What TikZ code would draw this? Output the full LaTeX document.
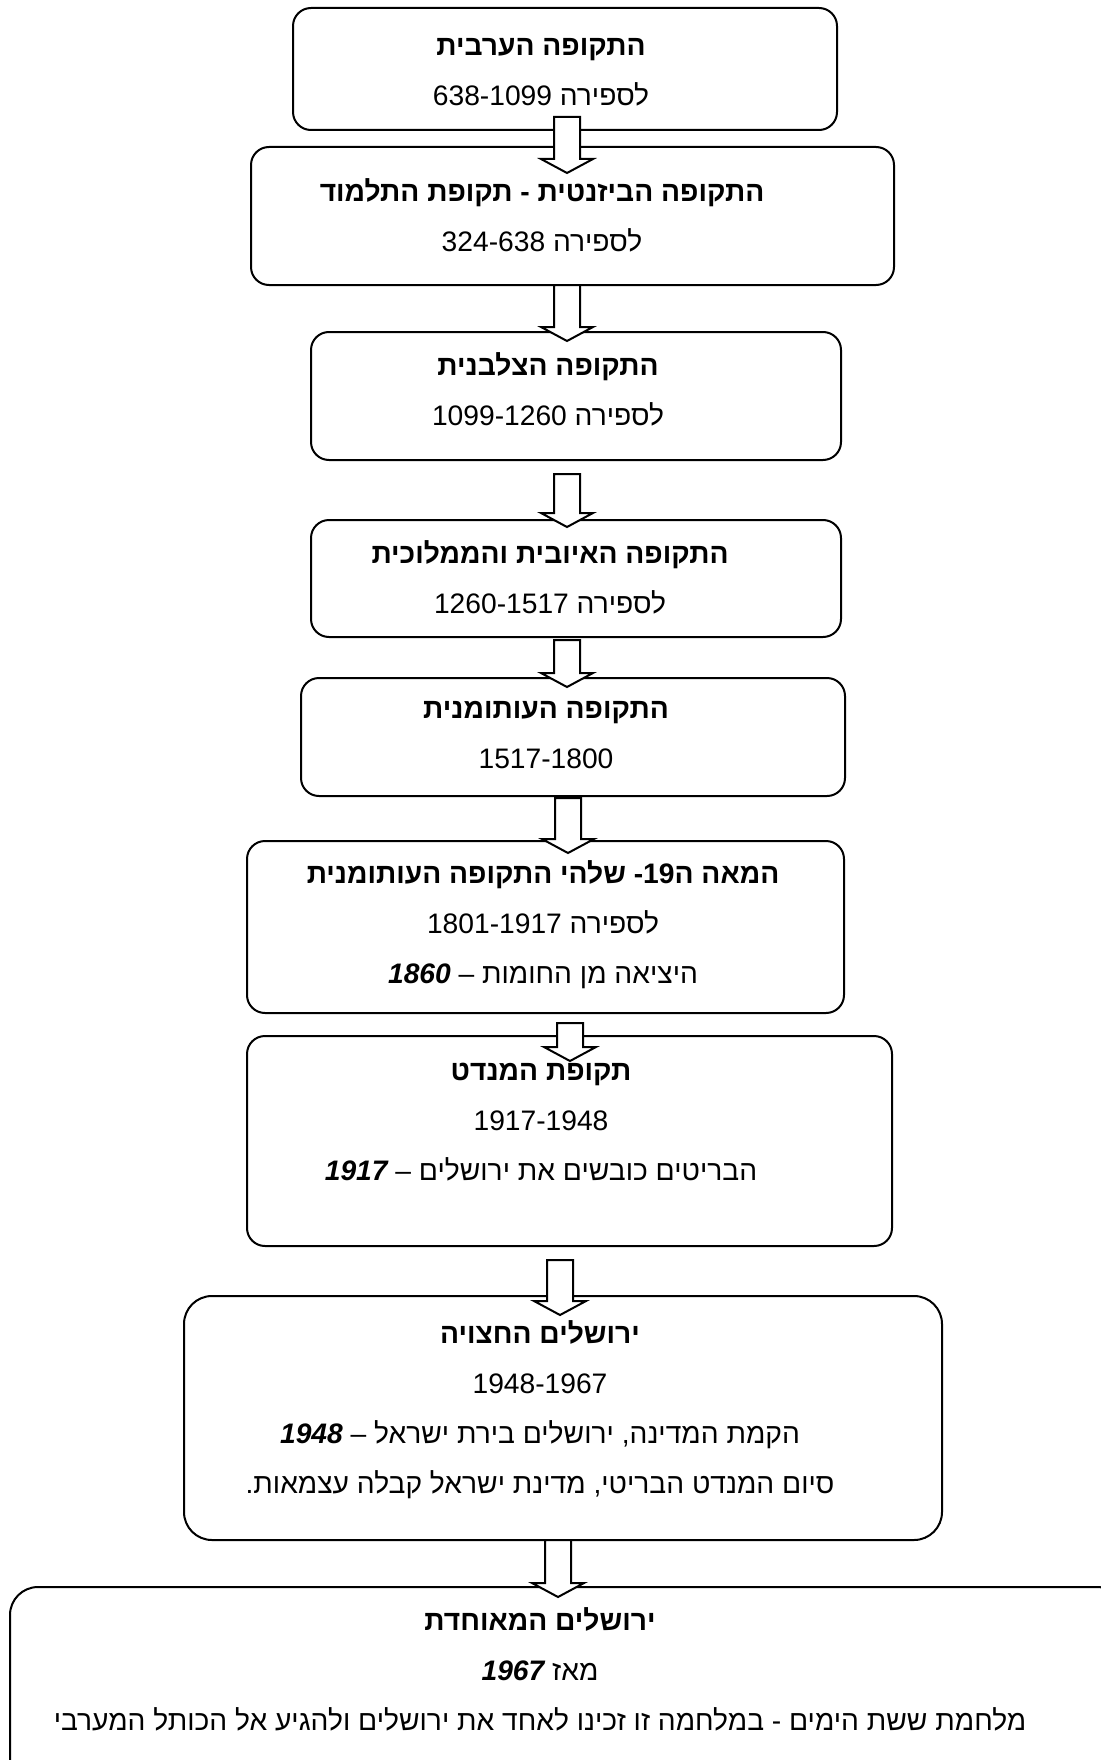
\documentclass[tikz,border=0pt]{standalone}
\usepackage{fontspec}
\setmainfont{Liberation Sans}[Script=Hebrew]
\usetikzlibrary{fit}
\TeXXeTstate=1
\newcommand\rl[1]{\beginR #1\endR}
\newcommand\nm[1]{\beginL #1\endL{}}
\newcommand\bi[1]{{\bfseries\itshape #1}}
\begin{document}
\begin{tikzpicture}[x=0.5pt,y=-0.5pt,
  box/.style={draw, line width=1pt, rounded corners=9pt, inner sep=0pt},
  bigbox/.style={box, rounded corners=14pt},
  txt/.style={font=\fontsize{14.1pt}{25pt}\selectfont, align=center, inner sep=0pt},
  pics/barrow/.style={code={
    \draw[line width=1pt, fill=white, line join=miter]
      (-13,0) -- (-13,#1-14) -- (-26,#1-14) -- (0,#1) -- (26,#1-14) -- (13,#1-14) -- (13,0) -- cycle;}}]
\useasboundingbox (0,0) rectangle (1101,1760);
\clip (0,0) rectangle (1101,1760);
% boxes
\node[box, fit={(293,8) (837,130)}] (b1) {};
\node[box, fit={(251,147) (894,285)}] (b2) {};
\node[box, fit={(311,332) (841,460)}] (b3) {};
\node[box, fit={(311,520) (841,637)}] (b4) {};
\node[box, fit={(301,678) (845,796)}] (b5) {};
\node[box, fit={(247,841) (844,1013)}] (b6) {};
\node[box, fit={(247,1036) (892,1246)}] (b7) {};
\node[bigbox, fit={(184,1296) (942,1540)}] (b8) {};
\node[bigbox, fit={(10,1587) (1125,1800)}] (b9) {};
% texts
\node[txt] (t1) at (541,72) {\textbf{\rl{התקופה הערבית}}\\ \rl{לספירה \nm{638-1099}}};
\node[txt] (t2) at (542,215) {\textbf{\rl{התקופה הביזנטית - תקופת התלמוד}}\\ \rl{לספירה \nm{324-638}}};
\node[txt] (t3) at (548,389) {\textbf{\rl{התקופה הצלבנית}}\\ \rl{לספירה \nm{1099-1260}}};
\node[txt] (t4) at (550,577) {\textbf{\rl{התקופה האיובית והממלוכית}}\\ \rl{לספירה \nm{1260-1517}}};
\node[txt] (t5) at (546,735) {\textbf{\rl{התקופה העותומנית}}\\ 1517-1800};
\node[txt] (t6) at (543,925) {\textbf{\rl{המאה ה\nm{19}- שלהי התקופה העותומנית}}\\ \rl{לספירה \nm{1801-1917}}\\ \rl{היציאה מן החומות – \nm{\bi{1860}}}};
\node[txt] (t7) at (541,1122) {\textbf{\rl{תקופת המנדט}}\\ 1917-1948\\ \rl{הבריטים כובשים את ירושלים – \nm{\bi{1917}}}};
\node[txt] (t8) at (540,1410) {\textbf{\rl{ירושלים החצויה}}\\ 1948-1967\\ \rl{הקמת המדינה, ירושלים בירת ישראל – \nm{\bi{1948}}}\\ \rl{סיום המנדט הבריטי, מדינת ישראל קבלה עצמאות.}};
\node[txt] (t9) at (540,1669) {\textbf{\rl{ירושלים המאוחדת}}\\ \rl{מאז \nm{\bi{1967}}}\\ \rl{מלחמת ששת הימים - במלחמה זו זכינו לאחד את ירושלים ולהגיע אל הכותל המערבי}};
% arrows
\coordinate (a1) at (567,117);
\coordinate (a2) at (567,285);
\coordinate (a3) at (567,474);
\coordinate (a4) at (567,640);
\coordinate (a5) at (568,798);
\coordinate (a6) at (570,1023);
\coordinate (a7) at (560,1260);
\coordinate (a8) at (558,1540);
\pic at (a1) {barrow=56};
\pic at (a2) {barrow=56};
\pic at (a3) {barrow=53};
\pic at (a4) {barrow=47};
\pic at (a5) {barrow=55};
\pic at (a6) {barrow=38};
\pic at (a7) {barrow=55};
\pic at (a8) {barrow=57};
\end{tikzpicture}
\end{document}
